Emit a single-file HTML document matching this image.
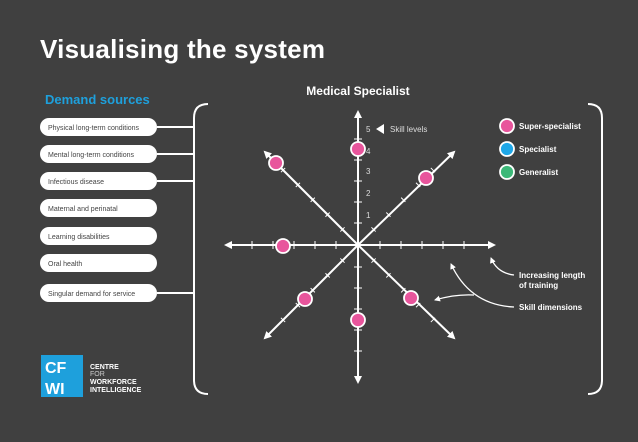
<!DOCTYPE html>
<html><head><meta charset="utf-8"><style>
html,body{margin:0;padding:0;background:#404040;}
svg{display:block}
text{font-family:"Liberation Sans",sans-serif;}
</style></head><body>
<svg width="638" height="442" viewBox="0 0 638 442" xmlns="http://www.w3.org/2000/svg">
<defs>
<marker id="ah" markerWidth="8" markerHeight="8" refX="6" refY="4" orient="auto" markerUnits="userSpaceOnUse"><path d="M0,0 L8,4 L0,8 Z" fill="#fff"/></marker>
<marker id="as" markerWidth="6" markerHeight="6" refX="5" refY="3" orient="auto" markerUnits="userSpaceOnUse"><path d="M0,0 L6,3 L0,6 Z" fill="#fff"/></marker>
</defs>
<rect width="638" height="442" fill="#404040"/>
<text x="40" y="58" font-size="26" font-weight="bold" fill="#fff" textLength="285">Visualising the system</text>
<text x="45" y="104" font-size="13" font-weight="bold" fill="#1ea0dc">Demand sources</text>
<text x="358" y="95" font-size="12" font-weight="bold" fill="#fff" text-anchor="middle">Medical Specialist</text>

<!-- pills -->
<g fill="#fff">
<rect x="40" y="118" width="117" height="18" rx="9"/>
<rect x="40" y="145" width="117" height="18" rx="9"/>
<rect x="40" y="172" width="117" height="18" rx="9"/>
<rect x="40" y="199" width="117" height="18" rx="9"/>
<rect x="40" y="227" width="117" height="18" rx="9"/>
<rect x="40" y="254" width="117" height="18" rx="9"/>
<rect x="40" y="284" width="117" height="18" rx="9"/>
</g>
<g font-size="7" fill="#444">
<text x="48" y="130">Physical long-term conditions</text>
<text x="48" y="157">Mental long-term conditions</text>
<text x="48" y="184">Infectious disease</text>
<text x="48" y="211">Maternal and perinatal</text>
<text x="48" y="239">Learning disabilities</text>
<text x="48" y="266">Oral health</text>
<text x="48" y="296">Singular demand for service</text>
</g>
<g stroke="#fff" stroke-width="2" fill="none">
<line x1="157" y1="127" x2="194" y2="127"/>
<line x1="157" y1="154" x2="194" y2="154"/>
<line x1="157" y1="181" x2="194" y2="181"/>
<line x1="157" y1="293" x2="194" y2="293"/>
<path d="M208,104 Q194,104 194,118 L194,380 Q194,394 208,394"/>
<path d="M588,104 Q602,104 602,118 L602,380 Q602,394 588,394"/>
</g>

<!-- axes -->
<g stroke="#fff" stroke-width="2" fill="none" marker-end="url(#ah)">
<line x1="358" y1="245" x2="358" y2="112"/>
<line x1="358" y1="245" x2="358" y2="382"/>
<line x1="358" y1="245" x2="226" y2="245"/>
<line x1="358" y1="245" x2="494" y2="245"/>
<line x1="358" y1="245" x2="265" y2="152"/>
<line x1="358" y1="245" x2="454" y2="152"/>
<line x1="358" y1="245" x2="265" y2="338"/>
<line x1="358" y1="245" x2="454" y2="338"/>
</g>
<g stroke="#fff" stroke-width="1" fill="none">
<path d="M354,223h8M354,202h8M354,181h8M354,160h8M354,139h8M354,267h8M354,288h8M354,309h8M354,330h8M354,351h8"/>
<path d="M380,241v8M401,241v8M422,241v8M443,241v8M464,241v8M336,241v8M315,241v8M294,241v8M273,241v8M252,241v8"/>
<g transform="rotate(45 358 245)"><path d="M380,242v6M401,242v6M422,242v6M443,242v6M464,242v6M336,242v6M315,242v6M294,242v6M273,242v6M252,242v6"/></g>
<g transform="rotate(-45 358 245)"><path d="M380,242v6M401,242v6M422,242v6M443,242v6M464,242v6M336,242v6M315,242v6M294,242v6M273,242v6M252,242v6"/></g>
</g>
<g font-size="8" fill="#ddd">
<text x="366" y="218">1</text><text x="366" y="196">2</text><text x="366" y="174">3</text><text x="366" y="154">4</text><text x="366" y="132">5</text>
<text x="390" y="132">Skill levels</text>
</g>
<path d="M376,129 L384,124 L384,134 Z" fill="#fff"/>

<!-- dots -->
<g fill="#e8559c" stroke="#fff" stroke-width="1.8">
<circle cx="358" cy="149" r="7"/>
<circle cx="276" cy="163" r="7"/>
<circle cx="426" cy="178" r="7"/>
<circle cx="283" cy="246" r="7"/>
<circle cx="305" cy="299" r="7"/>
<circle cx="411" cy="298" r="7"/>
<circle cx="358" cy="320" r="7"/>
</g>

<!-- legend -->
<circle cx="507" cy="126" r="7" fill="#e8559c" stroke="#fff" stroke-width="1.8"/>
<circle cx="507" cy="149" r="7" fill="#1ea7e8" stroke="#fff" stroke-width="1.8"/>
<circle cx="507" cy="172" r="7" fill="#3cb878" stroke="#fff" stroke-width="1.8"/>
<g font-size="8" font-weight="bold" fill="#fff">
<text x="519" y="129">Super-specialist</text>
<text x="519" y="152">Specialist</text>
<text x="519" y="175">Generalist</text>
<text x="519" y="278">Increasing length</text>
<text x="519" y="288">of training</text>
<text x="519" y="310">Skill dimensions</text>
</g>
<g stroke="#fff" stroke-width="1.3" fill="none">
<path d="M514,275 Q497,273 491,258" marker-end="url(#as)"/>
<path d="M514,307 Q470,305 451,264" marker-end="url(#as)"/>
<path d="M474,295 Q455,294 435,300" marker-end="url(#as)"/>
</g>

<!-- logo -->
<rect x="41" y="355" width="42" height="42" fill="#1ea0dc"/>
<g font-size="16" font-weight="bold" fill="#fff">
<text x="45" y="373">CF</text>
<text x="45" y="394">WI</text>
</g>
<g font-size="7" font-weight="bold" fill="#fff">
<text x="90" y="369">CENTRE</text>
<text x="90" y="376" font-weight="normal" fill="#ccc">FOR</text>
<text x="90" y="384">WORKFORCE</text>
<text x="90" y="392">INTELLIGENCE</text>
</g>
</svg>
</body></html>
